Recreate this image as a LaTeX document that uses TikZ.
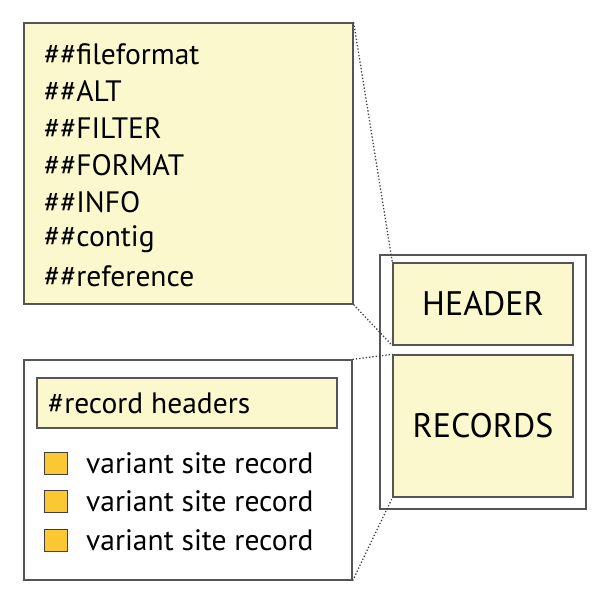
\documentclass[tikz,border=0pt]{standalone}
\usepackage{fontspec}
\setmainfont{PT Sans}
\definecolor{paleyellow}{RGB}{250,248,204}
\definecolor{recordfill}{RGB}{251,199,51}
\definecolor{edgegray}{RGB}{85,85,85}
\begin{document}
\begin{tikzpicture}[x=1pt,y=-1pt,
    panel/.style={shape=rectangle,draw=edgegray,line width=1.3pt,inner sep=0pt},
    field/.style={panel,fill=paleyellow},
    marker/.style={shape=rectangle,draw=black!75,fill=recordfill,line width=0.8pt,minimum width=23pt,minimum height=22pt,inner sep=0pt},
    entry/.style={anchor=west,inner sep=0pt,font=\fontsize{29.5}{32}\selectfont},
    zoomline/.style={draw=black!75,dotted,line width=1.3pt}]
    \useasboundingbox (0,0) rectangle (600,597);

    % file overview
    \node[panel,minimum width=206pt,minimum height=254pt] (F) at (483,382) {};
    \node[field,minimum width=180pt,minimum height=82pt,font=\fontsize{34}{38}\selectfont] (H) at (483,304) {HEADER};
    \node[field,minimum width=180pt,minimum height=142pt,font=\fontsize{34}{38}\selectfont] (R) at (483,426) {RECORDS};

    % meta-information lines
    \node[field,minimum width=329pt,minimum height=281pt] (M) at (188.5,163.5) {};
    \foreach \txt [count=\i from 0] in {fileformat,ALT,FILTER,FORMAT,INFO,contig,reference}
        \node[entry] (m\i) at (44,{54+37*\i}) {\#\#\txt};

    % body lines
    \node[panel,fill=white,minimum width=328pt,minimum height=220pt] (B) at (188,470) {};
    \node[field,minimum width=300pt,minimum height=50pt] (C) at (187,403) {};
    \node[entry] (c) at (48,403) {\#record headers};
    \foreach \i/\y in {1/463,2/501,3/540} {
        \node[marker] (s\i) at (56,\y) {};
        \node[entry] (v\i) at (86,\y) {variant site record};
    }

    \path[zoomline] (M.north east) -- (H.north west);
    \path[zoomline] (M.south east) -- (H.south west);
    \path[zoomline] (B.north east) -- (R.north west);
    \path[zoomline] (B.south east) -- (R.south west);
\end{tikzpicture}
\end{document}
